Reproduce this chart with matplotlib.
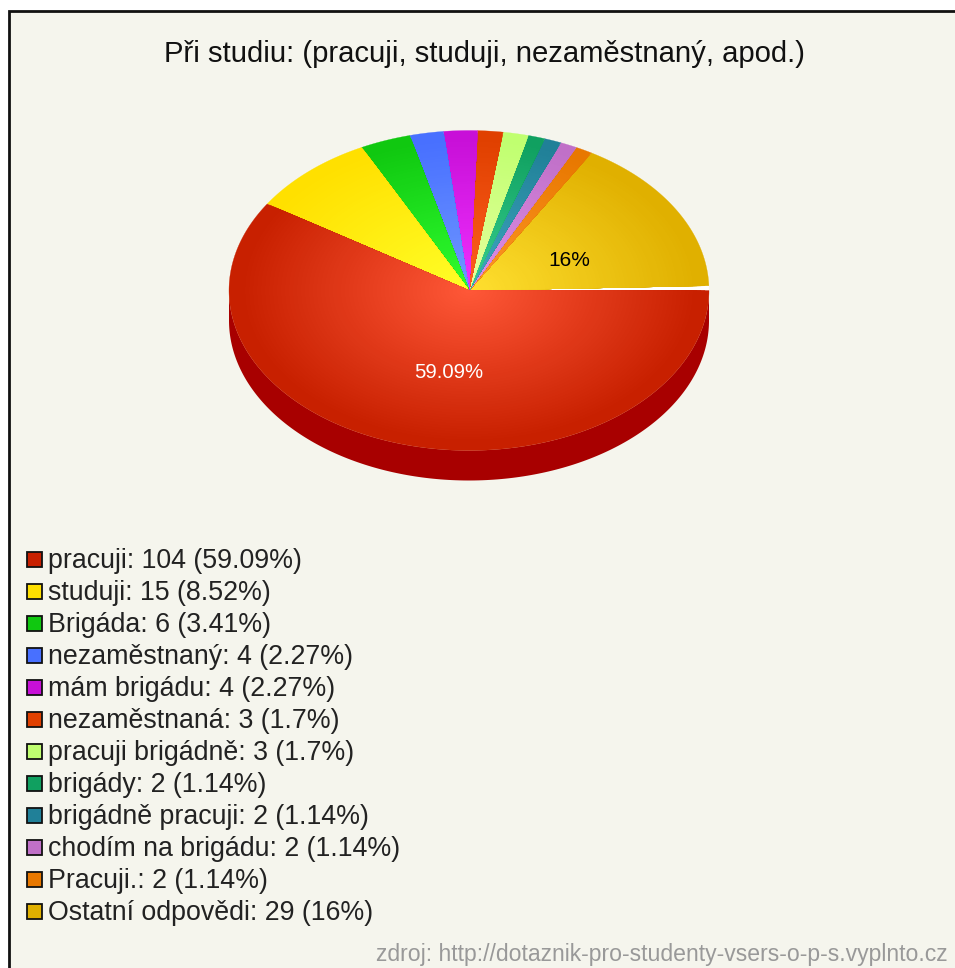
# Pie chart "Při studiu" - 3D look with radial gradient
import numpy as np
import matplotlib
matplotlib.use("Agg")
import matplotlib.pyplot as plt
from matplotlib.patches import Polygon, Rectangle
from matplotlib.colors import to_rgb

labels = ["pracuji", "studuji", "Brigáda", "nezaměstnaný", "mám brigádu", "nezaměstnaná",
          "pracuji brigádně", "brigády", "brigádně pracuji", "chodím na brigádu", "Pracuji.",
          "Ostatní odpovědi"]
values = [104, 15, 6, 4, 4, 3, 3, 2, 2, 2, 2, 29]
percents = ["59.09", "8.52", "3.41", "2.27", "2.27", "1.7", "1.7", "1.14", "1.14", "1.14", "1.14", "16"]

edge_colors = ["#c82000", "#ffe000", "#10c810", "#4870ff", "#c810d8", "#e04000",
               "#c0ff70", "#10a060", "#208098", "#c070c8", "#e87800", "#e0b000"]
center_colors = ["#ff5838", "#ffff28", "#30ff30", "#7098ff", "#f030ff", "#ff6020",
                 "#e8ffa0", "#38d090", "#40a8c0", "#e090e8", "#ff9828", "#ffe030"]
side_color = "#a80000"
bg = "#f5f5ed"

cx, cy, rx, ry, depth = 469, 290.5, 240, 160, 30
gap_deg = 1.7  # the last slice stops a bit short of the full circle

plt.rcParams["font.family"] = ["Liberation Sans", "DejaVu Sans"]

fig = plt.figure(figsize=(9.55, 9.68), dpi=100, facecolor="white")
ax = fig.add_axes([0, 0, 1, 1])
ax.set_xlim(0, 955)
ax.set_ylim(968, 0)
ax.axis("off")

ax.add_patch(Rectangle((8.5, 10.5), 960, 970, facecolor=bg, edgecolor="#111111", linewidth=2))


def wedge(a0, a1, scale=1.0, dy=0):
    t = np.radians(np.linspace(a0, a1, max(int(a1 - a0) * 2, 8)))
    xs = cx + scale * rx * np.cos(t)
    ys = cy + dy + scale * ry * np.sin(t)
    return np.column_stack([np.r_[cx, xs], np.r_[cy + dy, ys]])


# angles run clockwise from 3 o'clock (y axis is flipped)
total = sum(values)
angles = np.r_[0, np.cumsum(values)] / total * 360
angles[-1] -= gap_deg

# side of the pie, only the front half shows
t = np.radians(np.linspace(0, 180, 200))
side = np.column_stack([np.r_[cx + rx * np.cos(t), cx + rx * np.cos(t[::-1])],
                        np.r_[cy + depth + ry * np.sin(t), cy + ry * np.sin(t[::-1])]])
ax.add_patch(Polygon(side, facecolor=side_color, edgecolor="none", zorder=2))

# white gap left by the last slice
ax.add_patch(Polygon(wedge(angles[-1], 360), facecolor="white", edgecolor="none", zorder=2.5))

# slices as concentric wedges, outer to inner, for the radial gradient
# reversed so the big red one ends up on top at the centre
for i in reversed(range(len(values))):
    c0 = np.array(to_rgb(edge_colors[i]))
    c1 = np.array(to_rgb(center_colors[i]))
    for s in np.linspace(1, 0.02, 60):
        col = c1 + (c0 - c1) * min(s / 0.95, 1)
        ax.add_patch(Polygon(wedge(angles[i], angles[i + 1], s), facecolor=col,
                             edgecolor=col, linewidth=0.2, zorder=3))

ax.text(484, 54, "Při studiu: (pracuji, studuji, nezaměstnaný, apod.)", fontsize=21.1,
        ha="center", va="center", color="#111111")
ax.text(449, 372, percents[0] + "%", fontsize=14.7, color="white", ha="center", va="center", zorder=5)
ax.text(569, 260, percents[-1] + "%", fontsize=15, color="black", ha="center", va="center", zorder=5)

# legend
for i, lab in enumerate(labels):
    y = 559 + i * 32
    ax.add_patch(Rectangle((26.5, y - 7.5), 15, 15, facecolor=edge_colors[i], edgecolor="#111111", linewidth=1.3))
    ax.text(48, y + 2, f"{lab}: {values[i]} ({percents[i]}%)", fontsize=19.3, va="center", ha="left",
            color="#222222")

ax.text(948, 954, "zdroj: http://dotaznik-pro-studenty-vsers-o-p-s.vyplnto.cz", fontsize=16.6,
        ha="right", va="center", color="#999999")

fig.savefig("out.png", dpi=100, facecolor="white")
